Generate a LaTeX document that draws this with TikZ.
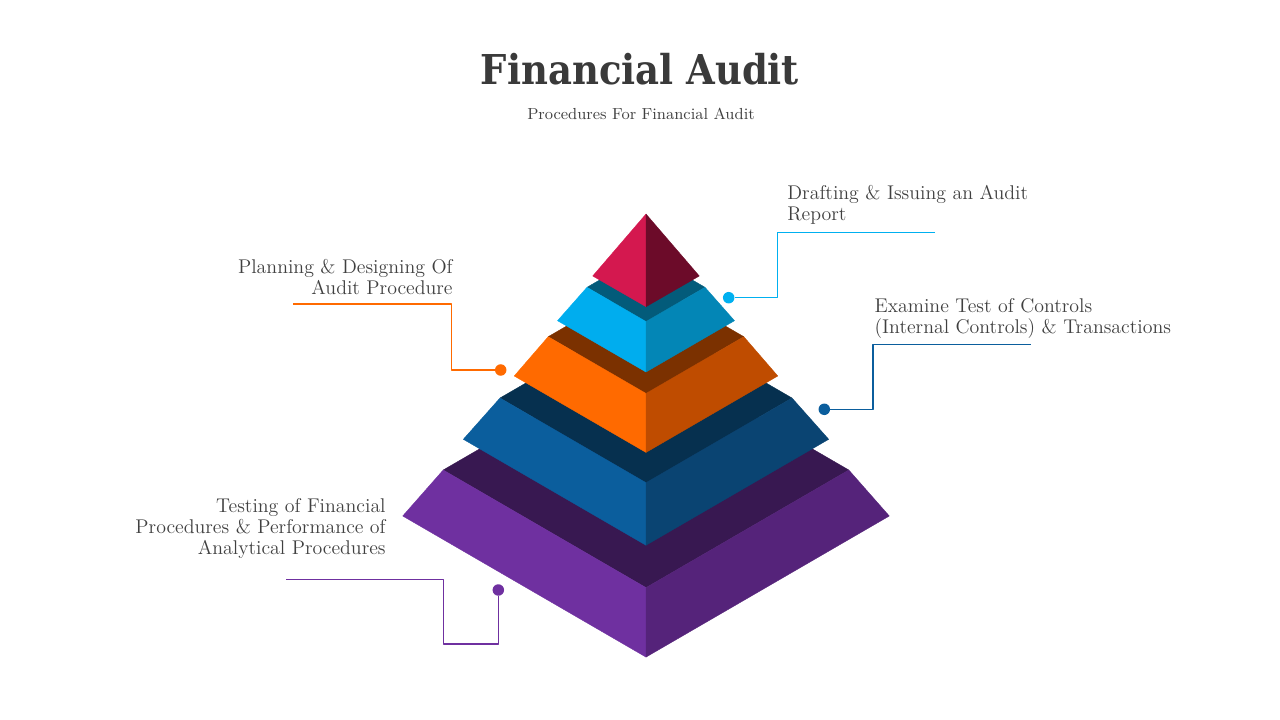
\documentclass[tikz,border=0pt]{standalone}
\usepackage{fontspec}
\newfontfamily\titlefont{DejaVu Serif Condensed}
\usepackage{xcolor}
\usetikzlibrary{positioning}
\definecolor{ink}{HTML}{404040}
\definecolor{titleink}{HTML}{3A3A3A}
\definecolor{rubyleft}{HTML}{D4184F}
\definecolor{rubyright}{HTML}{6C0B29}
\definecolor{skytop}{HTML}{035B7A}
\definecolor{skyleft}{HTML}{00ADEE}
\definecolor{skyright}{HTML}{0386B6}
\definecolor{ambertop}{HTML}{7B3100}
\definecolor{amberleft}{HTML}{FF6A00}
\definecolor{amberright}{HTML}{BF4C00}
\definecolor{navytop}{HTML}{06304F}
\definecolor{navyleft}{HTML}{0B5E9D}
\definecolor{navyright}{HTML}{0A4472}
\definecolor{plumtop}{HTML}{381851}
\definecolor{plumleft}{HTML}{6F30A0}
\definecolor{plumright}{HTML}{55237A}
\definecolor{skyline}{HTML}{00B0F0}
\tikzset{
    every picture/.style={line cap=round,line join=round},
    face/.style={fill=#1,draw=#1,line width=0.2pt},
    steptext/.style={text=ink,inner sep=0pt,
      font=\fontsize{11.3}{12.1}\selectfont},
    leader/.style={draw=#1,line width=0.8pt,line cap=butt},
    leaderdot/.style={circle,fill=#1,minimum size=2.3mm,inner sep=0pt}
}
\begin{document}
\begin{tikzpicture}[x=0.2mm,y=-0.2mm]
  \useasboundingbox (0,0) rectangle (1280,720);

  % heading
  \node[text=titleink,font=\titlefont\bfseries\fontsize{23.4}{28}\selectfont,anchor=base] (title) at (640,85) {Financial Audit};
  \node[text=ink,font=\fontsize{9.1}{11}\selectfont,anchor=base] (subtitle) at (641,120) {Procedures For Financial Audit};

  % pyramid tiers, bottom to top: top face, left face, right face
  \foreach \yt/\wt/\yb/\wb/\ctop/\cleft/\cright in {
      470/202.8/516/243.3/plumtop/plumleft/plumright,
      398/146/439.3/182.7/navytop/navyleft/navyright,
      336.7/97.8/376/131.8/ambertop/amberleft/amberright,
      287.3/59/320.7/88.5/skytop/skyleft/skyright}
  {
    \path[face=\ctop] (646-\wt,\yt) -- (646,\yt-0.58*\wt) -- (646+\wt,\yt) -- (646,\yt+0.58*\wt) -- cycle;
    \path[face=\cleft] (646-\wt,\yt) -- (646,\yt+0.58*\wt) -- (646,\yb+0.58*\wb) -- (646-\wb,\yb) -- cycle;
    \path[face=\cright] (646+\wt,\yt) -- (646,\yt+0.58*\wt) -- (646,\yb+0.58*\wb) -- (646+\wb,\yb) -- cycle;
  }
  \coordinate (apex) at (646,214);
  \path[face=rubyleft] (apex) -- (592.7,276) -- (646,306.7) -- cycle;
  \path[face=rubyright] (apex) -- (699.3,276) -- (646,306.7) -- cycle;

  % labels
  \node[steptext,align=right,anchor=north east] (plan) at (453,258.5) {Planning \& Designing Of\\Audit Procedure};
  \node[steptext,align=left,anchor=north west] (draft) at (787,184.5) {Drafting \& Issuing an Audit\\Report};
  \node[steptext,align=left,anchor=north west] (exam) at (874.3,297.8) {Examine Test of Controls\\(Internal Controls) \& Transactions};
  \node[steptext,align=right,anchor=north east] (test) at (386,497.8) {Testing of Financial\\Procedures \& Performance of\\Analytical Procedures};

  % leaders
  \node[leaderdot=amberleft] (plan-dot) at (500.7,370) {};
  \coordinate (plan-a) at (293,304);
  \coordinate (plan-b) at (451.7,304);
  \draw[leader=amberleft] (plan-a) -- (plan-b) |- (plan-dot);

  \node[leaderdot=skyline] (draft-dot) at (728.7,297.7) {};
  \coordinate (draft-a) at (935,232.3);
  \coordinate (draft-b) at (777.7,232.3);
  \draw[leader=skyline] (draft-a) -- (draft-b) |- (draft-dot);

  \node[leaderdot=navyleft] (exam-dot) at (824.3,409.3) {};
  \coordinate (exam-a) at (1030.7,344.3);
  \coordinate (exam-b) at (873,344.3);
  \draw[leader=navyleft] (exam-a) -- (exam-b) |- (exam-dot);

  \node[leaderdot=plumleft] (test-dot) at (498.3,590) {};
  \coordinate (test-a) at (286,579.3);
  \coordinate (test-c) at (443.3,644);
  \draw[leader=plumleft] (test-a) -| (test-c) -| (test-dot);
\end{tikzpicture}
\end{document}
